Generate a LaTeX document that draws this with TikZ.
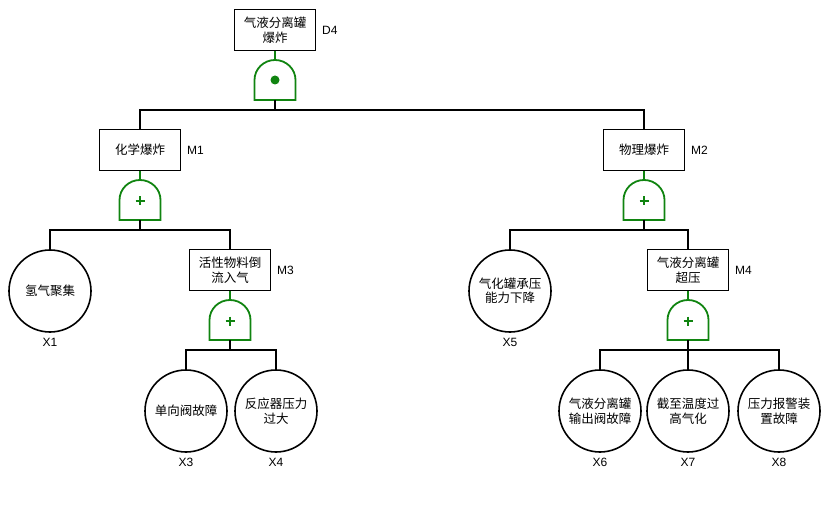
\documentclass[tikz,border=0pt]{standalone}
\usepackage{fontspec}
\setmainfont{Liberation Sans}
\newfontfamily\cjk{Noto Sans CJK SC}
\definecolor{gg}{RGB}{16,132,16}
\newcommand\ftgate[4]{% name, x, top y, symbol (1 = and dot, 0 = plus)
  \coordinate (#1t) at (#2,#3);
  \coordinate (#1b) at (#2,#3+40);
  \draw[gatestyle] (#2-20.5,#3+40) -- (#2-20.5,#3+20)
    .. controls (#2-20.5,#3+9) and (#2-11.3,#3) .. (#2,#3)
    .. controls (#2+11.3,#3) and (#2+20.5,#3+9) .. (#2+20.5,#3+20)
    -- (#2+20.5,#3+40) -- cycle;
  \ifnum#4=1
    \fill[gg] (#2,#3+20) circle[radius=4.5pt];
  \else
    \draw[gg,line width=2pt] (#2-4.5,#3+21) -- (#2+4.5,#3+21) (#2,#3+16.5) -- (#2,#3+25.5);
  \fi
}
\begin{document}
\begin{tikzpicture}[x=1pt,y=-1pt,line width=1.6pt,
  evt/.style={draw,rectangle,minimum width=81pt,minimum height=41pt,inner sep=1pt,align=center,
    font=\cjk\fontsize{12.5}{14.5}\selectfont},
  basic/.style={draw,circle,minimum size=82pt,inner sep=0pt,align=center,
    font=\cjk\fontsize{12.5}{14.5}\selectfont},
  tag/.style={inner sep=0pt,font=\fontsize{12}{14}\selectfont},
  gatestyle/.style={draw=gg,line width=1.8pt},
  gline/.style={draw=gg,line width=1.8pt}]
\useasboundingbox (0,0) rectangle (829,510);

% events
\node[evt] (D4) at (275,30) {气液分离罐\\爆炸};
\node[evt] (M1) at (140,150) {化学爆炸};
\node[evt] (M2) at (644,150) {物理爆炸};
\node[evt] (M3) at (230,270) {活性物料倒\\流入气};
\node[evt] (M4) at (688,270) {气液分离罐\\超压};
\node[basic] (X1) at (50,291) {氢气聚集};
\node[basic] (X5) at (510,291) {气化罐承压\\能力下降};
\node[basic] (X3) at (186,411) {单向阀故障};
\node[basic] (X4) at (276,411) {反应器压力\\过大};
\node[basic] (X6) at (600,411) {气液分离罐\\输出阀故障};
\node[basic] (X7) at (688,411) {截至温度过\\高气化};
\node[basic] (X8) at (779,411) {压力报警装\\置故障};

% tags
\node[tag,anchor=west] (tD4) at ([xshift=5pt]D4.east) {D4};
\node[tag,anchor=west] (tM1) at ([xshift=5pt]M1.east) {M1};
\node[tag,anchor=west] (tM2) at ([xshift=5pt]M2.east) {M2};
\node[tag,anchor=west] (tM3) at ([xshift=5pt]M3.east) {M3};
\node[tag,anchor=west] (tM4) at ([xshift=5pt]M4.east) {M4};
\foreach \n in {X1,X3,X4,X5,X6,X7,X8}
  \node[tag] (t\n) at ([yshift=-10pt]\n.south) {\n};

% gates
\ftgate{g0}{275}{60}{1}
\ftgate{g1}{140}{180}{0}
\ftgate{g2}{644}{180}{0}
\ftgate{g3}{230}{300}{0}
\ftgate{g4}{688}{300}{0}

% connectors
\draw[gline] (D4.south) -- (g0t);
\draw[gline] (M1.south) -- (g1t);
\draw[gline] (M2.south) -- (g2t);
\draw[gline] (M3.south) -- (g3t);
\draw[gline] (M4.south) -- (g4t);

\coordinate (b0) at (275,110);
\coordinate (b1) at (140,230);
\coordinate (b2) at (644,230);
\coordinate (b3) at (230,350);
\coordinate (b4) at (688,350);
\draw (g0b) -- (b0);
\draw (M1.north) |- (b0) -| (M2.north);
\draw (g1b) -- (b1);
\draw (X1.north) |- (b1) -| (M3.north);
\draw (g2b) -- (b2);
\draw (X5.north) |- (b2) -| (M4.north);
\draw (g3b) -- (b3);
\draw (X3.north) |- (b3) -| (X4.north);
\draw (g4b) -- (b4);
\draw (X6.north) |- (b4) -| (X8.north);
\draw (b4) -- (X7.north);
\end{tikzpicture}
\end{document}
